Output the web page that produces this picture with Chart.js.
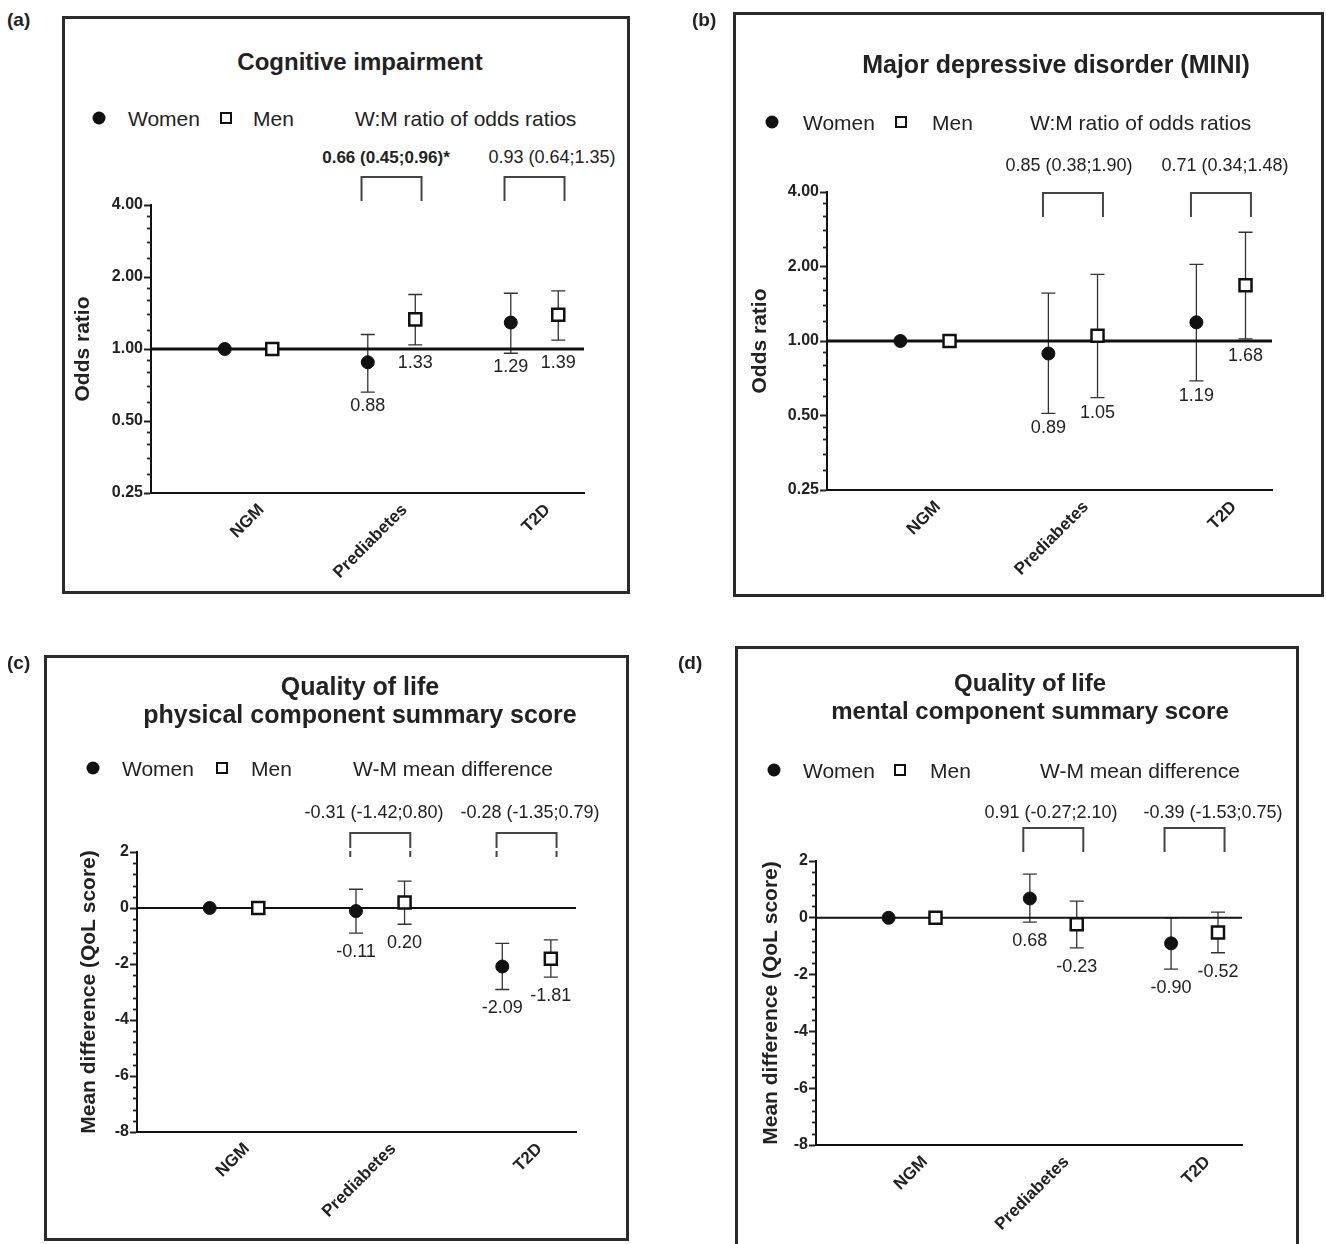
<!DOCTYPE html>
<html><head><meta charset="utf-8">
<script src="https://cdn.jsdelivr.net/npm/chart.js@4.4.1/dist/chart.umd.min.js"></script>
<style>
body{margin:0;background:#fff;font-family:"Liberation Sans",Arial,Helvetica,sans-serif;color:#222;}
#page{position:relative;width:1326px;height:1244px;overflow:hidden;background:#fff;}
.box{position:absolute;border:3px solid #2b2b2b;box-sizing:border-box;}
canvas{position:absolute;left:0;top:0;}
.t{position:absolute;white-space:nowrap;line-height:1;color:#222;}
.dot{position:absolute;width:13px;height:13px;border-radius:50%;background:#111;transform:translate(-50%,-50%);}
.sq{position:absolute;width:12px;height:12px;border:2.5px solid #111;box-sizing:border-box;background:#fff;transform:translate(-50%,-50%);}
</style></head><body><div id="page"></div>
<script>
const categories = ['NGM', 'Prediabetes', 'T2D'];

// (a) Cognitive impairment – odds ratios
const cogWomen   = [1.00, 0.88, 1.29];
const cogWomenLo = [1.00, 0.66, 0.96];
const cogWomenHi = [1.00, 1.15, 1.71];
const cogMen     = [1.00, 1.33, 1.39];
const cogMenLo   = [1.00, 1.04, 1.09];
const cogMenHi   = [1.00, 1.69, 1.75];
const cogRatios  = ['0.66 (0.45;0.96)*', '0.93 (0.64;1.35)'];

// (b) Major depressive disorder – odds ratios
const mddWomen   = [1.00, 0.89, 1.19];
const mddWomenLo = [1.00, 0.51, 0.69];
const mddWomenHi = [1.00, 1.56, 2.04];
const mddMen     = [1.00, 1.05, 1.68];
const mddMenLo   = [1.00, 0.59, 1.02];
const mddMenHi   = [1.00, 1.86, 2.75];
const mddRatios  = ['0.85 (0.38;1.90)', '0.71 (0.34;1.48)'];

// (c) QoL physical component – mean differences
const pcsWomen   = [0, -0.11, -2.09];
const pcsWomenLo = [0, -0.90, -2.91];
const pcsWomenHi = [0, 0.67, -1.26];
const pcsMen     = [0, 0.20, -1.81];
const pcsMenLo   = [0, -0.58, -2.47];
const pcsMenHi   = [0, 0.96, -1.14];
const pcsDiffs   = ['-0.31 (-1.42;0.80)', '-0.28 (-1.35;0.79)'];

// (d) QoL mental component – mean differences
const mcsWomen   = [0, 0.68, -0.90];
const mcsWomenLo = [0, -0.15, -1.81];
const mcsWomenHi = [0, 1.54, 0.00];
const mcsMen     = [0, -0.23, -0.52];
const mcsMenLo   = [0, -1.06, -1.23];
const mcsMenHi   = [0, 0.59, 0.20];
const mcsDiffs   = ['0.91 (-0.27;2.10)', '-0.39 (-1.53;0.75)'];

const orTicks = [0.25, 0.5, 1, 2, 4];
const mdTicks = [-8, -6, -4, -2, 0, 2];

const FONT = '"Liberation Sans", Arial, Helvetica, sans-serif';
const page = document.getElementById('page');
function el(cls, x, y, w, h) {
  const d = document.createElement('div');
  d.className = cls;
  d.style.left = x + 'px'; d.style.top = y + 'px';
  if (w !== undefined) { d.style.width = w + 'px'; d.style.height = h + 'px'; }
  page.appendChild(d);
  return d;
}
function txt(s, x, y, size, bold, center) {
  const d = el('t', x, y);
  d.textContent = s;
  d.style.fontSize = size + 'px';
  if (bold) d.style.fontWeight = 'bold';
  d.style.transform = center ? 'translate(-50%,-50%)' : 'translate(0,-50%)';
  return d;
}

const panels = [
  { letter: '(a)', lx: 7, ly: 19, box: [62, 16, 630, 594],
    title: ['Cognitive impairment'], tx: 360, ty: [62], tsize: 24,
    leg: { y: 118, dot: 99, women: 128, sq: 226, men: 253, lab: 355, text: 'W:M ratio of odds ratios' },
    ratios: cogRatios, rx: [386, 552], ry: 157, rbold: [true, false],
    log: true, ymin: 0.25, ymax: 4, ticks: orTicks, ref: 1, refW: 3,
    w: cogWomen, wLo: cogWomenLo, wHi: cogWomenHi, m: cogMen, mLo: cogMenLo, mHi: cogMenHi,
    axisX: 151, endX: 584, topY: 205, bottomY: 493, xmin: -0.682, xmax: 2.346,
    ytitle: 'Odds ratio', yW: 80, br: [177, 201], broken: false, gap: 14 },
  { letter: '(b)', lx: 692, ly: 19, box: [733, 12, 1324, 597],
    title: ['Major depressive disorder (MINI)'], tx: 1056, ty: [64], tsize: 25,
    leg: { y: 122, dot: 772, women: 803, sq: 901, men: 932, lab: 1030, text: 'W:M ratio of odds ratios' },
    ratios: mddRatios, rx: [1069, 1225], ry: 165, rbold: [false, false],
    log: true, ymin: 0.25, ymax: 4, ticks: orTicks, ref: 1, refW: 3,
    w: mddWomen, wLo: mddWomenLo, wHi: mddWomenHi, m: mddMen, mLo: mddMenLo, mHi: mddMenHi,
    axisX: 827, endX: 1272, topY: 192, bottomY: 490, xmin: -0.662, xmax: 2.345,
    ytitle: 'Odds ratio', yW: 79, br: [193, 217], broken: false, gap: 15 },
  { letter: '(c)', lx: 7, ly: 662, box: [44, 655, 629, 1241],
    title: ['Quality of life', 'physical component summary score'], tx: 360, ty: [686, 714], tsize: 25,
    leg: { y: 768, dot: 93, women: 122, sq: 222, men: 251, lab: 353, text: 'W-M mean difference' },
    ratios: pcsDiffs, rx: [374, 530], ry: 812, rbold: [false, false],
    log: false, ymin: -8, ymax: 2, ticks: mdTicks, ref: 0, refW: 2,
    w: pcsWomen, wLo: pcsWomenLo, wHi: pcsWomenHi, m: pcsMen, mLo: pcsMenLo, mHi: pcsMenHi,
    axisX: 137, endX: 576, topY: 852, bottomY: 1132, xmin: -0.663, xmax: 2.338,
    ytitle: 'Mean difference (QoL score)', yW: 60, br: [833, 857], broken: true, gap: 19 },
  { letter: '(d)', lx: 678, ly: 662, box: [735, 646, 1299, 1252],
    title: ['Quality of life', 'mental component summary score'], tx: 1030, ty: [683, 711], tsize: 24,
    leg: { y: 770, dot: 774, women: 803, sq: 900, men: 930, lab: 1040, text: 'W-M mean difference' },
    ratios: mcsDiffs, rx: [1051, 1213], ry: 812, rbold: [false, false],
    log: false, ymin: -8, ymax: 2, ticks: mdTicks, ref: 0, refW: 2,
    w: mcsWomen, wLo: mcsWomenLo, wHi: mcsWomenHi, m: mcsMen, mLo: mcsMenLo, mHi: mcsMenHi,
    axisX: 816, endX: 1242, topY: 861, bottomY: 1145, xmin: -0.680, xmax: 2.336,
    ytitle: 'Mean difference (QoL score)', yW: 57, br: [828, 852], broken: false, gap: 19 }
];

const OFF = 0.166;
const XH = 90;

function minorValues(p) {
  const out = [];
  for (let k = 0; k < p.ticks.length - 1; k++) {
    const a = p.ticks[k], b = p.ticks[k + 1];
    for (let j = 1; j <= 4; j++) out.push(a + (b - a) * j / 5);
  }
  return out;
}

function makePanel(p) {
  el('box', p.box[0], p.box[1], p.box[2] - p.box[0], p.box[3] - p.box[1]);
  txt(p.letter, p.lx, p.ly, 19, true, false);
  p.title.forEach((t, i) => txt(t, p.tx, p.ty[i], p.tsize, true, true));
  el('dot', p.leg.dot, p.leg.y);
  txt('Women', p.leg.women, p.leg.y, 21, false, false);
  el('sq', p.leg.sq, p.leg.y);
  txt('Men', p.leg.men, p.leg.y, 21, false, false);
  txt(p.leg.text, p.leg.lab, p.leg.y, 21, false, false);
  p.ratios.forEach((r, i) => txt(r, p.rx[i], p.ry, p.rbold[i] ? 17 : 18, p.rbold[i], true));

  const cv = document.createElement('canvas');
  cv.width = 1326; cv.height = 1244;
  cv.style.width = '1326px'; cv.style.height = '1244px';
  page.appendChild(cv);

  const pts = (vals, d) => vals.map((v, i) => ({ x: i + d, y: v }));
  const series = [
    { vals: p.w, lo: p.wLo, hi: p.wHi, d: -OFF },
    { vals: p.m, lo: p.mLo, hi: p.mHi, d: OFF }
  ];

  const decor = {
    id: 'decor' + p.letter,
    beforeDatasetsDraw(chart) {
      const { ctx, scales: { x, y } } = chart;
      ctx.save();
      ctx.strokeStyle = '#333';
      ctx.lineWidth = 1.3;
      series.forEach(s => {
        s.vals.forEach((v, i) => {
          if (s.lo[i] === s.hi[i]) return;
          const px = x.getPixelForValue(i + s.d);
          const y1 = y.getPixelForValue(s.hi[i]);
          const y2 = y.getPixelForValue(s.lo[i]);
          ctx.beginPath();
          ctx.moveTo(px, y1); ctx.lineTo(px, y2);
          ctx.moveTo(px - 7, y1); ctx.lineTo(px + 7, y1);
          ctx.moveTo(px - 7, y2); ctx.lineTo(px + 7, y2);
          ctx.stroke();
        });
      });
      // minor ticks on the y axis
      ctx.strokeStyle = '#222';
      ctx.lineWidth = 1.8;
      const ax = chart.chartArea.left;
      minorValues(p).forEach(v => {
        const py = Math.round(y.getPixelForValue(v)) + 0.5;
        ctx.beginPath(); ctx.moveTo(ax - 4, py); ctx.lineTo(ax, py); ctx.stroke();
      });
      ctx.restore();
    },
    afterDatasetsDraw(chart) {
      const { ctx, scales: { x, y } } = chart;
      ctx.save();
      ctx.fillStyle = '#222';
      ctx.font = '18px ' + FONT;
      ctx.textAlign = 'center';
      ctx.textBaseline = 'middle';
      const refPx = y.getPixelForValue(p.ref);
      series.forEach(s => {
        s.vals.forEach((v, i) => {
          if (i === 0) return;
          const px = x.getPixelForValue(i + s.d);
          const lowPx = y.getPixelForValue(s.lo[i]);
          ctx.fillText(v.toFixed(2), px, Math.max(lowPx, refPx) + p.gap);
        });
      });
      // brackets linking women and men within a category
      ctx.strokeStyle = '#444';
      ctx.lineWidth = 2;
      [1, 2].forEach(i => {
        const c = x.getPixelForValue(i);
        const l = c - 30, r = c + 30, t = p.br[0], bt = p.br[1];
        ctx.beginPath();
        if (p.broken) {
          ctx.moveTo(l, bt - 9); ctx.lineTo(l, t); ctx.lineTo(r, t); ctx.lineTo(r, bt - 9);
          ctx.moveTo(l, bt - 6); ctx.lineTo(l, bt);
          ctx.moveTo(r, bt - 6); ctx.lineTo(r, bt);
        } else {
          ctx.moveTo(l, bt); ctx.lineTo(l, t); ctx.lineTo(r, t); ctx.lineTo(r, bt);
        }
        ctx.stroke();
      });
      ctx.restore();
    }
  };

  new Chart(cv, {
    type: 'scatter',
    data: {
      datasets: [
        { label: 'ref', type: 'line', data: [{ x: p.xmin, y: p.ref }, { x: p.xmax, y: p.ref }],
          borderColor: '#111', borderWidth: p.refW, pointRadius: 0, order: 3 },
        { label: 'Women', data: pts(p.w, -OFF), pointStyle: 'circle', pointRadius: 6.5,
          backgroundColor: '#111', borderColor: '#111', borderWidth: 1, order: 1 },
        { label: 'Men', data: pts(p.m, OFF), pointStyle: 'rect', pointRadius: 8.5,
          backgroundColor: '#fff', borderColor: '#111', borderWidth: 2.5, order: 0 }
      ]
    },
    options: {
      responsive: false, animation: false, events: [],
      layout: { padding: { left: p.axisX - p.yW, right: 1326 - p.endX, top: p.topY, bottom: 1244 - p.bottomY - XH } },
      plugins: { legend: { display: false }, tooltip: { enabled: false } },
      scales: {
        x: {
          type: 'linear', min: p.xmin, max: p.xmax,
          afterFit: s => { s.height = XH; },
          afterBuildTicks: s => { s.ticks = categories.map((c, i) => ({ value: i })); },
          grid: { display: false, drawTicks: false },
          border: { display: true, color: '#111', width: 2 },
          ticks: { autoSkip: false, minRotation: 45, maxRotation: 45, padding: 7, labelOffset: 13,
            font: { family: FONT, size: 17, weight: 'bold' }, color: '#222',
            callback: v => categories[v] }
        },
        y: {
          type: p.log ? 'logarithmic' : 'linear', min: p.ymin, max: p.ymax,
          afterFit: s => { s.width = p.yW; },
          afterBuildTicks: s => { s.ticks = p.ticks.map(v => ({ value: v })); },
          grid: { drawOnChartArea: false, drawTicks: true, tickLength: 7, tickWidth: 2, tickColor: '#222' },
          border: { display: true, color: '#111', width: 2 },
          ticks: { padding: 1, font: { family: FONT, size: 16, weight: 'bold' }, color: '#222',
            callback: v => p.log ? Number(v).toFixed(2) : String(v) },
          title: { display: true, text: p.ytitle, padding: 0,
            font: { family: FONT, size: 21, weight: 'bold' }, color: '#222' }
        }
      }
    },
    plugins: [decor]
  });
}

panels.forEach(makePanel);
</script>
</body></html>
